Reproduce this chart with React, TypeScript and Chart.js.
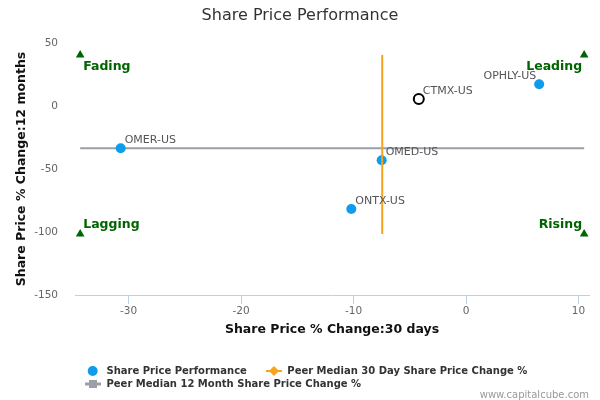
import React, { useEffect, useRef } from 'react';
import { Chart, registerables } from 'chart.js';

Chart.register(...registerables);

const FONT = '"DejaVu Sans", Verdana, sans-serif';

const peerTickers = ['OMER-US', 'OMED-US', 'ONTX-US', 'OPHLY-US'];
const peer30Day = [-30.7, -7.5, -10.2, 6.5];
const peer12Month = [-33.6, -43.1, -81.7, 17.2];
const focusTicker = 'CTMX-US';
const focus30Day = -4.2;
const focus12Month = 5.5;
const median30Day = -7.45;
const median12Month = -33.6;
const quadrantX = [-34.3, 10.5];
const quadrantY = [40.5, -101.6];
const quadrantNames = ['Fading', 'Leading', 'Lagging', 'Rising'];
const xTicks = [-30, -20, -10, 0, 10];
const yTicks = [-150, -100, -50, 0, 50];
const xRange = [-34.76, 10.93];
const yRange = [-150, 50];

const chartTitle = 'Share Price Performance';
const xTitle = 'Share Price % Change:30 days';
const yTitle = 'Share Price % Change:12 months';
const legendNames = [
  'Share Price Performance',
  'Peer Median 30 Day Share Price Change %',
  'Peer Median 12 Month Share Price Change %',
];
const credits = 'www.capitalcube.com';

const BLUE = '#0e9cec';
const ORANGE = '#f7a31c';
const GRAY = '#9c9ea8';
const GREEN = '#006400';

const overlay = {
  id: 'overlay',
  afterDatasetsDraw(chart: any) {
    const { ctx, chartArea } = chart;
    const x = chart.scales.x;
    const y = chart.scales.y;
    ctx.save();
    ctx.font = `11px ${FONT}`;
    ctx.fillStyle = '#555';
    ctx.textBaseline = 'middle';
    const drawLabel = (name: string, vx: number, vy: number) => {
      const px = x.getPixelForValue(vx);
      const py = y.getPixelForValue(vy);
      const w = ctx.measureText(name).width;
      if (px + 5 + w > chartArea.right) {
        ctx.textAlign = 'right';
        ctx.fillText(name, px - 3, py - 8);
      } else {
        ctx.textAlign = 'left';
        ctx.fillText(name, px + 4, py - 8);
      }
    };
    peerTickers.forEach((t, i) => drawLabel(t, peer30Day[i], peer12Month[i]));
    drawLabel(focusTicker, focus30Day, focus12Month);

    ctx.font = `bold 12.5px ${FONT}`;
    ctx.fillStyle = GREEN;
    const xl = x.getPixelForValue(quadrantX[0]);
    const xr = x.getPixelForValue(quadrantX[1]);
    const yt = y.getPixelForValue(quadrantY[0]);
    const yb = y.getPixelForValue(quadrantY[1]);
    ctx.textAlign = 'left';
    ctx.fillText(quadrantNames[0], xl + 3, yt + 12);
    ctx.fillText(quadrantNames[2], xl + 3, yb - 9);
    ctx.textAlign = 'right';
    ctx.fillText(quadrantNames[1], xr - 2, yt + 12);
    ctx.fillText(quadrantNames[3], xr - 2, yb - 9);
    ctx.restore();
  },
  afterDraw(chart: any) {
    const { ctx, chartArea } = chart;
    ctx.save();
    ctx.textBaseline = 'middle';
    // Title
    ctx.font = `16px ${FONT}`;
    ctx.fillStyle = '#333';
    ctx.textAlign = 'center';
    ctx.fillText(chartTitle, chart.width / 2, 15.5);
    // Axis titles
    ctx.font = `bold 12.5px ${FONT}`;
    ctx.fillStyle = '#111';
    ctx.fillText(xTitle, (chartArea.left + chartArea.right) / 2, 330);
    ctx.save();
    ctx.translate(22, (chartArea.top + chartArea.bottom) / 2);
    ctx.rotate(-Math.PI / 2);
    ctx.fillText(yTitle, 0, 0);
    ctx.restore();

    // Legend
    ctx.font = `bold 10px ${FONT}`;
    ctx.fillStyle = '#333';
    ctx.textAlign = 'left';
    const r1 = 371;
    const r2 = 384;
    ctx.beginPath();
    ctx.fillStyle = BLUE;
    ctx.arc(92.7, r1, 5, 0, Math.PI * 2);
    ctx.fill();
    ctx.fillStyle = '#333';
    ctx.fillText(legendNames[0], 106.5, r1);

    ctx.strokeStyle = ORANGE;
    ctx.lineWidth = 2;
    ctx.beginPath();
    ctx.moveTo(266, r1);
    ctx.lineTo(282, r1);
    ctx.stroke();
    ctx.fillStyle = ORANGE;
    ctx.beginPath();
    ctx.moveTo(274, r1 - 5);
    ctx.lineTo(279, r1);
    ctx.lineTo(274, r1 + 5);
    ctx.lineTo(269, r1);
    ctx.closePath();
    ctx.fill();
    ctx.fillStyle = '#333';
    ctx.fillText(legendNames[1], 287.3, r1);

    ctx.strokeStyle = GRAY;
    ctx.lineWidth = 3;
    ctx.beginPath();
    ctx.moveTo(85, r2);
    ctx.lineTo(101, r2);
    ctx.stroke();
    ctx.fillStyle = GRAY;
    ctx.fillRect(89, r2 - 4, 8, 8);
    ctx.fillStyle = '#333';
    ctx.fillText(legendNames[2], 106.5, r2);

    // Credits
    ctx.font = `10px ${FONT}`;
    ctx.fillStyle = '#999';
    ctx.textAlign = 'right';
    ctx.fillText(credits, 589, 395);
    ctx.restore();
  },
};

export default function App() {
  const canvasRef = useRef<HTMLCanvasElement | null>(null);

  useEffect(() => {
    if (!canvasRef.current) return;
    const chart = new Chart(canvasRef.current, {
      type: 'scatter',
      data: {
        datasets: [
          {
            label: legendNames[1],
            data: [
              { x: median30Day, y: quadrantY[0] },
              { x: median30Day, y: quadrantY[1] },
            ],
            showLine: true,
            borderColor: ORANGE,
            borderWidth: 2,
            pointRadius: 0,
          },
          {
            label: 'CTMX',
            data: [{ x: focus30Day, y: focus12Month }],
            pointRadius: 5,
            borderWidth: 2,
            borderColor: '#000',
            backgroundColor: '#fff',
          },
          {
            label: legendNames[0],
            data: peer30Day.map((v, i) => ({ x: v, y: peer12Month[i] })),
            pointRadius: 5,
            borderWidth: 0,
            backgroundColor: BLUE,
          },
          {
            label: legendNames[2],
            data: [
              { x: quadrantX[0], y: median12Month },
              { x: quadrantX[1], y: median12Month },
            ],
            showLine: true,
            borderColor: GRAY,
            borderWidth: 2,
            pointRadius: 0,
          },
          {
            label: 'quadrants',
            data: [
              { x: quadrantX[0], y: quadrantY[0] },
              { x: quadrantX[1], y: quadrantY[0] },
              { x: quadrantX[0], y: quadrantY[1] },
              { x: quadrantX[1], y: quadrantY[1] },
            ],
            pointStyle: 'triangle',
            pointRadius: 5,
            borderWidth: 0,
            backgroundColor: GREEN,
          },
        ],
      },
      options: {
        animation: false,
        responsive: false,
        events: [],
        layout: { padding: { top: 43, right: 11, left: 0, bottom: 0 } },
        plugins: {
          legend: { display: false },
          tooltip: { enabled: false },
          title: { display: false },
        },
        scales: {
          x: {
            type: 'linear',
            min: xRange[0],
            max: xRange[1],
            afterBuildTicks: (s: any) => {
              s.ticks = xTicks.map((v) => ({ value: v }));
            },
            afterFit: (s: any) => {
              s.height = 105;
            },
            grid: {
              display: true,
              drawOnChartArea: false,
              drawTicks: true,
              tickLength: 9,
              color: '#c0d0e0',
            },
            border: { display: true, color: '#c0d0e0', width: 1 },
            ticks: {
              color: '#666',
              font: { family: FONT, size: 10.5 },
              padding: 1,
              maxRotation: 0,
            },
          },
          y: {
            type: 'linear',
            min: yRange[0],
            max: yRange[1],
            afterBuildTicks: (s: any) => {
              s.ticks = yTicks.map((v) => ({ value: v }));
            },
            afterFit: (s: any) => {
              s.width = 75;
            },
            grid: { display: false },
            border: { display: false },
            ticks: {
              color: '#666',
              font: { family: FONT, size: 10.5 },
              padding: 9,
            },
          },
        },
      },
      plugins: [overlay],
    } as any);
    return () => chart.destroy();
  }, []);

  return (
    <div style={{ position: 'fixed', left: 0, top: 0, width: 600, height: 400, background: '#fff' }}>
      <canvas ref={canvasRef} width={600} height={400} style={{ width: 600, height: 400 }} />
    </div>
  );
}
